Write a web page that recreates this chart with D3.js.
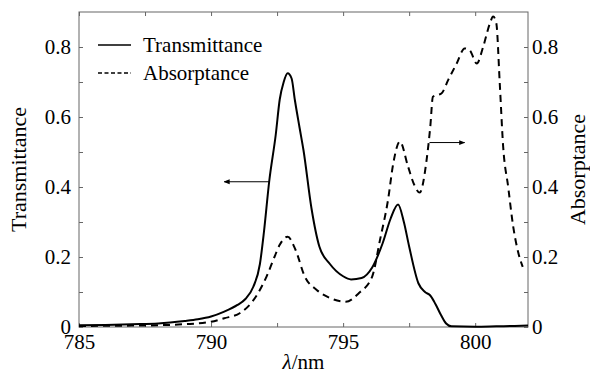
<!DOCTYPE html>
<html>
<head>
<meta charset="utf-8">
<script src="https://cdn.jsdelivr.net/npm/d3@7"></script>
<style>
  body { margin: 0; background: #fff; }
</style>
</head>
<body>
<svg id="chart"></svg>
<script>
// wavelength (nm) and transmittance
const wlT = [785, 786, 787, 788, 789, 789.5, 790, 790.5, 791, 791.3, 791.6, 791.85, 792, 792.2, 792.45, 792.6, 792.75, 792.9, 793.05, 793.17, 793.35, 793.5, 793.8, 794.1, 794.5, 795, 795.3, 795.7, 796.1, 796.5, 796.8, 797.08, 797.3, 797.5, 797.85, 798.1, 798.3, 798.5, 798.7, 798.9, 799.1, 800, 800.8, 801.5, 802];
const trans = [0.005, 0.006, 0.008, 0.01, 0.017, 0.022, 0.03, 0.044, 0.063, 0.08, 0.115, 0.18, 0.27, 0.415, 0.55, 0.65, 0.70, 0.725, 0.71, 0.65, 0.57, 0.505, 0.34, 0.23, 0.18, 0.145, 0.136, 0.14, 0.17, 0.24, 0.31, 0.35, 0.30, 0.23, 0.125, 0.10, 0.09, 0.065, 0.035, 0.01, 0.002, 0.001, 0.002, 0.003, 0.004];

// wavelength (nm) and absorptance
const wlA = [785, 787, 788, 789, 790, 790.5, 791.1, 791.7, 792.1, 792.4, 792.6, 792.9, 793.2, 793.55, 794, 794.5, 795.1, 795.6, 796.1, 796.4, 796.7, 796.9, 797.15, 797.46, 797.7, 797.9, 798.16, 798.3, 798.4, 798.73, 798.98, 799.3, 799.6, 799.8, 800.06, 800.3, 800.56, 800.68, 800.8, 800.93, 801.06, 801.25, 801.44, 801.64, 801.8];
const absorp = [0.003, 0.004, 0.005, 0.008, 0.015, 0.025, 0.04, 0.087, 0.144, 0.2, 0.235, 0.258, 0.22, 0.144, 0.106, 0.083, 0.072, 0.097, 0.144, 0.25, 0.363, 0.468, 0.53, 0.458, 0.405, 0.384, 0.477, 0.572, 0.658, 0.668, 0.706, 0.753, 0.796, 0.79, 0.753, 0.80, 0.868, 0.887, 0.868, 0.697, 0.515, 0.4, 0.287, 0.21, 0.172];

const xTicks = [785, 787.5, 790, 792.5, 795, 797.5, 800];
const xLabels = [785, 790, 795, 800];
const yTicks = [0, 0.1, 0.2, 0.3, 0.4, 0.5, 0.6, 0.7, 0.8];
const yLabels = [0, 0.2, 0.4, 0.6, 0.8];
const seriesNames = ["Transmittance", "Absorptance"];

// arrows pointing at which axis each curve belongs to: [x0, x1, y]
const arrowT = [792.2, 790.5, 0.415];
const arrowA = [798.27, 799.6, 0.527];

const W = 590, H = 373;
const margin = { top: 12, right: 62, bottom: 46, left: 79 };
const width = W - margin.left - margin.right;
const height = H - margin.top - margin.bottom;
const serif = "'Liberation Serif', 'Times New Roman', Times, serif";

const svg = d3.select("#chart").attr("width", W).attr("height", H);

svg.append("defs").append("marker")
    .attr("id", "head")
    .attr("viewBox", "0 0 10 10")
    .attr("refX", 9).attr("refY", 5)
    .attr("markerWidth", 6).attr("markerHeight", 6)
    .attr("markerUnits", "userSpaceOnUse")
    .attr("orient", "auto")
  .append("path")
    .attr("d", "M0,1 L10,5 L0,9 Z")
    .attr("fill", "#000");

const g = svg.append("g").attr("transform", `translate(${margin.left},${margin.top})`);

const x = d3.scaleLinear().domain([785, 802]).range([0, width]);
const y = d3.scaleLinear().domain([0, 0.9]).range([height, 0]);

const fmtX = d => xLabels.includes(d) ? d3.format("d")(d) : "";
const fmtY = d => yLabels.some(v => Math.abs(v - d) < 1e-9) ? (d === 0 ? "0" : d3.format(".1f")(d)) : "";

function styleAxis(sel) {
  sel.attr("font-family", serif).attr("font-size", 21);
  sel.select(".domain").remove();
  sel.selectAll(".tick line").attr("stroke", "#666");
  sel.selectAll(".tick text").attr("fill", "#000");
}

g.append("g").attr("transform", `translate(0,${height})`)
  .call(d3.axisBottom(x).tickValues(xTicks).tickFormat(fmtX).tickSizeInner(-4).tickSizeOuter(0).tickPadding(7))
  .call(styleAxis);
g.append("g")
  .call(d3.axisTop(x).tickValues(xTicks).tickFormat("").tickSizeInner(-4).tickSizeOuter(0))
  .call(styleAxis);
g.append("g")
  .call(d3.axisLeft(y).tickValues(yTicks).tickFormat(fmtY).tickSizeInner(-4).tickSizeOuter(0).tickPadding(8))
  .call(styleAxis);
g.append("g").attr("transform", `translate(${width},0)`)
  .call(d3.axisRight(y).tickValues(yTicks).tickFormat(fmtY).tickSizeInner(-4).tickSizeOuter(0).tickPadding(4))
  .call(styleAxis);

g.append("rect")
  .attr("width", width).attr("height", height)
  .attr("fill", "none").attr("stroke", "#666").attr("stroke-width", 1);

const line = d3.line().curve(d3.curveMonotoneX)
  .x(d => x(d[0])).y(d => y(d[1]));

g.append("path")
  .datum(d3.zip(wlT, trans))
  .attr("fill", "none").attr("stroke", "#000").attr("stroke-width", 2)
  .attr("d", line);

g.append("path")
  .datum(d3.zip(wlA, absorp))
  .attr("fill", "none").attr("stroke", "#000").attr("stroke-width", 2)
  .attr("stroke-dasharray", "7,5")
  .attr("d", line);

[arrowT, arrowA].forEach(a => {
  g.append("line")
    .attr("x1", x(a[0])).attr("x2", x(a[1]))
    .attr("y1", y(a[2])).attr("y2", y(a[2]))
    .attr("stroke", "#000").attr("stroke-width", 1)
    .attr("marker-end", "url(#head)");
});

// legend
const legend = svg.append("g").attr("transform", "translate(98,45)");
seriesNames.forEach((name, i) => {
  const row = legend.append("g").attr("transform", `translate(0,${i * 28})`);
  row.append("line")
    .attr("x1", 0).attr("x2", 33).attr("y1", 0).attr("y2", 0)
    .attr("stroke", "#000").attr("stroke-width", 1.5)
    .attr("stroke-dasharray", i === 1 ? "4,2.5" : null);
  row.append("text")
    .attr("x", 45).attr("y", 0).attr("dy", "0.35em")
    .attr("font-family", serif).attr("font-size", 21)
    .text(name);
});

// axis titles
svg.append("text")
  .attr("transform", `translate(26,${margin.top + height / 2}) rotate(-90)`)
  .attr("text-anchor", "middle")
  .attr("font-family", serif).attr("font-size", 22)
  .text("Transmittance");

svg.append("text")
  .attr("transform", `translate(585,${margin.top + height / 2}) rotate(-90)`)
  .attr("text-anchor", "middle")
  .attr("font-family", serif).attr("font-size", 22)
  .text("Absorptance");

const xt = svg.append("text")
  .attr("x", margin.left + width / 2).attr("y", 369)
  .attr("text-anchor", "middle")
  .attr("font-family", serif).attr("font-size", 21);
xt.append("tspan").attr("font-style", "italic").text("λ");
xt.append("tspan").text("/nm");
</script>
</body>
</html>
